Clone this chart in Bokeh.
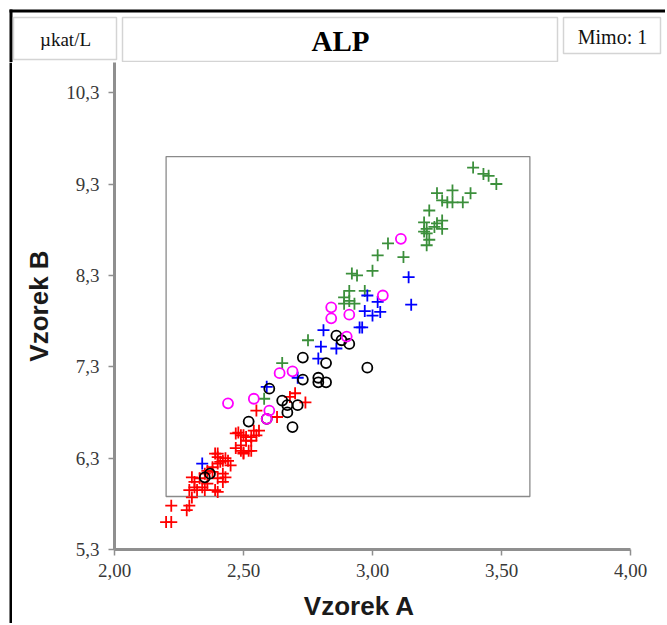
from bokeh.plotting import figure
from bokeh.layouts import column, row
from bokeh.models import FixedTicker, CustomJSTickFormatter, Range1d
from bokeh.core.properties import value
from bokeh.embed import file_html
from bokeh.resources import INLINE

# ---- data ----
red_x = [2.20, 2.22, 2.22, 2.28, 2.29, 2.30, 2.29, 2.31, 2.31, 2.30, 2.33, 2.34, 2.35, 2.32, 2.36,
         2.39, 2.40, 2.42, 2.40, 2.42, 2.43, 2.35, 2.38, 2.40, 2.40, 2.42, 2.43, 2.44, 2.40, 2.47,
         2.49, 2.50, 2.52, 2.49, 2.51, 2.53, 2.47, 2.49, 2.55, 2.56, 2.54, 2.36, 2.38, 2.41, 2.55,
         2.63, 2.68, 2.70, 2.74, 2.53, 2.48, 2.50, 2.53, 2.50, 2.39, 2.45, 2.51]
red_y = [5.60, 5.60, 5.78, 5.73, 5.78, 5.87, 5.95, 5.98, 6.04, 6.09, 6.08, 5.98, 5.95, 5.95, 6.02,
         5.95, 5.93, 6.04, 6.08, 6.13, 6.09, 6.13, 6.20, 6.24, 6.31, 6.27, 6.30, 6.27, 6.35, 6.41,
         6.38, 6.36, 6.38, 6.44, 6.49, 6.49, 6.57, 6.55, 6.55, 6.60, 6.60, 6.16, 6.15, 6.26, 6.82,
         6.75, 6.97, 7.01, 6.91, 6.53, 6.58, 6.55, 6.38, 6.35, 6.35, 6.22, 6.53]

green_x = [2.65, 2.58, 2.75, 2.89, 2.93, 3.06, 3.02, 3.12, 3.00, 2.92, 2.94, 2.91, 2.89, 2.91,
           2.97, 3.21, 3.21, 3.39, 3.43, 3.45, 3.48, 3.31, 3.25, 3.27, 3.29, 3.31, 3.35, 3.38,
           3.22, 3.27, 3.20, 3.25, 3.21, 3.27, 3.24, 3.20, 3.22]
green_y = [7.34, 6.95, 7.59, 7.99, 7.99, 8.65, 8.52, 8.50, 8.35, 8.32, 8.30, 8.13, 8.06, 8.02,
           8.13, 8.63, 8.76, 9.48, 9.41, 9.39, 9.30, 9.23, 9.20, 9.12, 9.10, 9.10, 9.10, 9.20,
           9.01, 8.90, 8.88, 8.87, 8.81, 8.81, 8.83, 8.78, 8.69]

blue_x = [2.34, 2.59, 2.71, 2.79, 2.80, 2.86, 2.81, 2.95, 2.96, 2.97, 3.00, 3.03, 2.98, 3.02, 3.14, 3.15]
blue_y = [6.24, 7.08, 7.18, 7.39, 7.52, 7.50, 7.70, 7.73, 7.73, 7.91, 7.86, 7.90, 8.08, 8.01, 8.28, 7.98]

black_x = [2.35, 2.37, 2.52, 2.59, 2.69, 2.67, 2.65, 2.67, 2.71, 2.60, 2.73, 2.79, 2.79, 2.82,
           2.73, 2.82, 2.98, 2.86, 2.88, 2.91]
black_y = [6.09, 6.13, 6.70, 6.73, 6.64, 6.80, 6.93, 6.88, 6.88, 7.06, 7.16, 7.18, 7.13, 7.13,
           7.40, 7.34, 7.29, 7.64, 7.59, 7.55]

magenta_x = [2.44, 2.54, 2.60, 2.59, 2.64, 2.69, 2.84, 2.84, 2.91, 2.90, 3.04, 3.11]
magenta_y = [6.90, 6.95, 6.82, 6.73, 7.23, 7.25, 7.95, 7.83, 7.87, 7.63, 8.08, 8.70]

x_ticks = [2.0, 2.5, 3.0, 3.5, 4.0]
y_ticks = [5.3, 6.3, 7.3, 8.3, 9.3, 10.3]
limit_x = [2.2, 3.61]
limit_y = [5.88, 9.60]

title = "ALP"
unit = "µkat/L"
outside = "Mimo: 1"
x_title = "Vzorek A"
y_title = "Vzorek B"

SERIF = "Liberation Serif"
SANS = "Liberation Sans"


def bare(w, h, xr, yr):
    f = figure(width=w, height=h, x_range=xr, y_range=yr, output_backend="svg",
               toolbar_location=None, x_axis_type=None, y_axis_type=None,
               min_border=0, min_border_left=0, min_border_right=0,
               min_border_top=0, min_border_bottom=0)
    f.outline_line_color = None
    f.grid.visible = False
    f.background_fill_color = "white"
    f.border_fill_color = "white"
    return f


# ---- header strip (pixel coordinates, y downward) ----
W = 665
HH = 62
head = bare(W, HH, Range1d(0, W), Range1d(HH, 0))
head.quad(left=[9, 9], right=[12, W], top=[9, 9], bottom=[HH, 12], fill_color="black", line_color=None)
head.quad(left=[13, 122, 563], right=[116, 557, 660], top=[17, 17, 17], bottom=[59, 61, 53],
          fill_color="white", line_color="#d4d4d4", line_width=1.5)
head.text(x=[65], y=[39], text=[unit], text_align="center", text_baseline="middle",
          text_font=value(SERIF), text_font_size="19px", text_color="#111111")
head.text(x=[340], y=[40], text=[title], text_align="center", text_baseline="middle",
          text_font=value(SERIF), text_font_size="29px", text_font_style="bold", text_color="#000000")
head.text(x=[612], y=[36], text=[outside], text_align="center", text_baseline="middle",
          text_font=value(SERIF), text_font_size="20px", text_color="#111111")

# ---- left frame strip ----
MH = 561
strip = bare(12, MH, Range1d(0, 12), Range1d(0, MH))
strip.quad(left=[9], right=[12], bottom=[0], top=[MH], fill_color="black", line_color=None)

# ---- main scatter plot ----
PW = W - 12
PH = 525
p = figure(width=PW, height=PH, x_range=Range1d(2.0, 4.0), y_range=Range1d(5.3, 10.63),
           output_backend="svg", toolbar_location=None,
           min_border_left=102, min_border_right=35, min_border_top=0, min_border_bottom=PH - 487)
p.outline_line_color = None
p.grid.visible = False
p.background_fill_color = "white"
p.border_fill_color = "white"

axis_gray = "#8f8f8f"
for ax in (p.xaxis[0], p.yaxis[0]):
    ax.axis_line_color = axis_gray
    ax.axis_line_width = 3
    ax.major_tick_line_color = axis_gray
    ax.major_tick_line_width = 1.5
    ax.major_tick_out = 6
    ax.major_tick_in = 0
    ax.minor_tick_line_color = None
    ax.major_label_text_font = SERIF
    ax.major_label_text_font_size = "19px"
    ax.major_label_text_color = "#383838"
    ax.axis_label_text_font = SANS
    ax.axis_label_text_font_style = "bold"
    ax.axis_label_text_font_size = "26px"
    ax.axis_label_text_color = "#1a1a1a"

p.xaxis.major_label_standoff = 8
p.yaxis.major_label_standoff = 9
p.yaxis.axis_label_standoff = 9

p.xaxis.ticker = FixedTicker(ticks=x_ticks)
p.yaxis.ticker = FixedTicker(ticks=y_ticks)
p.xaxis.formatter = CustomJSTickFormatter(code="return tick.toFixed(2).replace('.', ',');")
p.yaxis.formatter = CustomJSTickFormatter(code="return tick.toFixed(1).replace('.', ',');")
p.yaxis.axis_label = y_title

# limits rectangle
p.quad(left=[limit_x[0]], right=[limit_x[1]], bottom=[limit_y[0]], top=[limit_y[1]],
       fill_color=None, line_color="#8a8a8a", line_width=1.3)

# series
p.scatter(red_x, red_y, marker="cross", size=12, line_color="#ff0000", line_width=1.8)
p.scatter(green_x, green_y, marker="cross", size=12, line_color="#3b8f3b", line_width=1.8)
p.scatter(blue_x, blue_y, marker="cross", size=12, line_color="#0000ff", line_width=1.8)
p.scatter(black_x, black_y, marker="circle", size=10, fill_color=None, line_color="#000000", line_width=1.8)
p.scatter(magenta_x, magenta_y, marker="circle", size=10, fill_color=None, line_color="#ff00ff", line_width=1.8)

# ---- footer with x-axis title (pixel coordinates, y downward) ----
FH = MH - PH
foot = bare(PW, FH, Range1d(0, PW), Range1d(FH, 0))
foot.text(x=[310], y=[FH / 2], text=[x_title], text_align="center", text_baseline="middle",
          text_font=value(SANS), text_font_size="26px", text_font_style="bold", text_color="#1a1a1a")

layout = column(head, row(strip, column(p, foot, spacing=0), spacing=0), spacing=0)

open("out.html", "w").write(file_html(layout, INLINE))
